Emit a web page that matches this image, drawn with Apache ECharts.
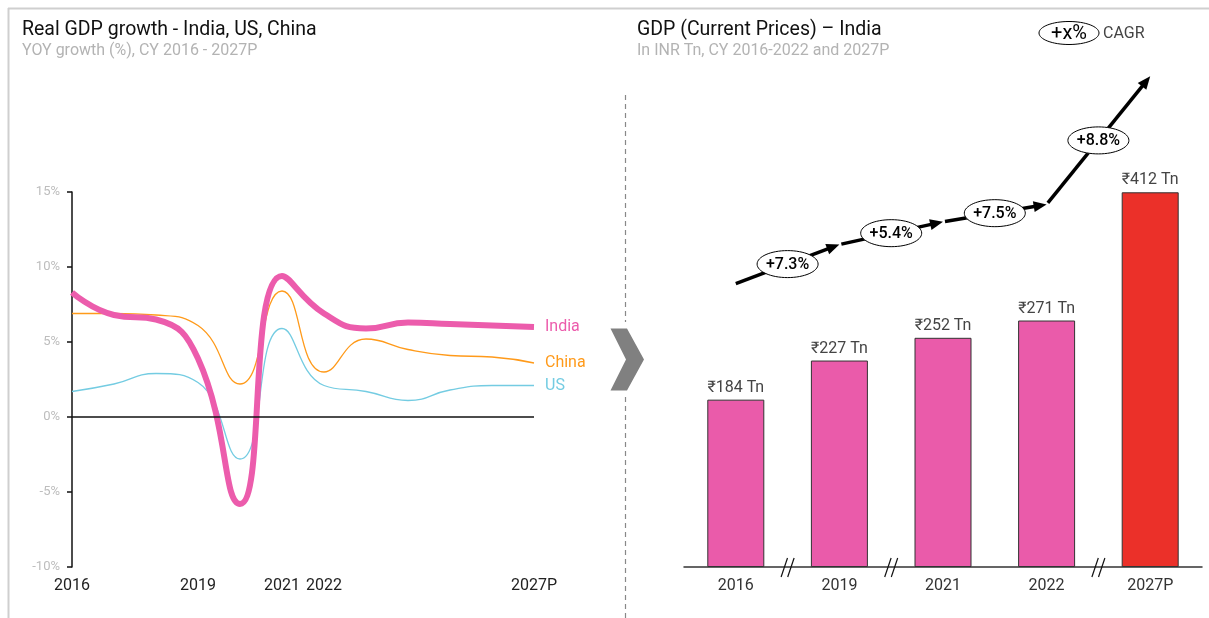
<!DOCTYPE html>
<html>
<head>
<meta charset="utf-8">
<script src="https://cdn.jsdelivr.net/npm/echarts@6/dist/echarts.min.js"></script>
<style>
html,body{margin:0;padding:0;background:#fff;}
#chart{width:1209px;height:618px;}
</style>
</head>
<body>
<div id="chart"></div>
<script>
// ---------- Data: left chart (real GDP growth, %) ----------
const years = [2016, 2017, 2018, 2019, 2020, 2021, 2022, 2023, 2024, 2025, 2026, 2027];
const indiaGrowth = [8.3, 6.8, 6.5, 3.9, -5.8, 9.4, 6.9, 5.9, 6.3, 6.2, 6.1, 6.0];
const chinaGrowth = [6.9, 6.9, 6.8, 6.1, 2.2, 8.4, 3.0, 5.2, 4.5, 4.1, 4.0, 3.6];
const usGrowth    = [1.7, 2.2, 2.9, 2.3, -2.8, 5.9, 2.1, 1.7, 1.1, 1.8, 2.1, 2.1];
const xTickYears  = [2016, 2019, 2021, 2022, 2027];
const xTickLabels = ['2016', '2019', '2021', '2022', '2027P'];
const seriesNames = ['India', 'China', 'US'];

// ---------- Data: right chart (GDP current prices, INR Tn) ----------
const gdpCategories = ['2016', '2019', '2021', '2022', '2027P'];
const gdpValues = [184, 227, 252, 271, 412];
const cagrLabels = ['+7.3%', '+5.4%', '+7.5%', '+8.8%'];
const axisBreaksAfter = ['2016', '2019', '2022'];

// ---------- Styles ----------
const FONT = 'Roboto, "Noto Sans", sans-serif';
const PINK = '#EC5CAC';
const ORANGE = '#FF9A1A';
const BLUE = '#74CCE2';
const BAR_PINK = '#EA5BAA';
const BAR_RED = '#EB3029';
const ARROW_OFFSET = 116; // px above bar tops

const chart = echarts.init(document.getElementById('chart'), null, {renderer: 'canvas'});

function lineData(arr) { return years.map((y, i) => [y, arr[i]]); }

function endLabel(color) {
  return {show: true, formatter: '{a}', color: color, fontSize: 16, fontFamily: FONT, distance: 11};
}

const option = {
  animation: false,
  backgroundColor: '#fff',
  textStyle: {fontFamily: FONT},
  grid: [
    {left: 72, right: 675, top: 192, bottom: 51, outerBoundsMode: 'none'},
    {left: 684, right: 7, top: 112.25, bottom: 51, outerBoundsMode: 'none'}
  ],
  xAxis: [
    {
      gridIndex: 0, type: 'value', min: 2016, max: 2027, interval: 1,
      axisLine: {show: false}, axisTick: {show: false}, splitLine: {show: false},
      axisLabel: {
        margin: 11, color: '#222', fontSize: 16, fontFamily: FONT,
        showMinLabel: true, showMaxLabel: true, hideOverlap: false,
        formatter: function (v) { const k = xTickYears.indexOf(v); return k >= 0 ? xTickLabels[k] : ''; }
      }
    },
    {
      gridIndex: 1, type: 'category', data: gdpCategories,
      axisLine: {show: true, lineStyle: {color: '#333', width: 1.5}},
      axisTick: {show: false},
      axisLabel: {margin: 11, color: '#333', fontSize: 16, fontFamily: FONT}
    }
  ],
  yAxis: [
    {
      gridIndex: 0, type: 'value', min: -10, max: 15, interval: 5,
      axisLine: {show: true, lineStyle: {color: '#111', width: 1.5}},
      axisTick: {show: true, length: 5, lineStyle: {color: '#111', width: 1.5}},
      splitLine: {show: false},
      axisLabel: {formatter: '{value}%', color: '#BDBDBD', fontSize: 13, margin: 12, fontFamily: FONT}
    },
    {
      gridIndex: 1, type: 'value', min: 0, max: 500, show: false, splitLine: {show: false}
    }
  ],
  series: [
    {
      name: 'Zero', type: 'line', xAxisIndex: 0, yAxisIndex: 0, data: [], z: 1,
      markLine: {
        silent: true, symbol: 'none', label: {show: false},
        lineStyle: {color: '#111', width: 1.5, type: 'solid'},
        data: [{yAxis: 0}]
      }
    },
    {
      name: seriesNames[2], type: 'line', xAxisIndex: 0, yAxisIndex: 0, data: lineData(usGrowth),
      smooth: 0.5, showSymbol: false, z: 2,
      lineStyle: {color: BLUE, width: 1.3}, itemStyle: {color: BLUE}, endLabel: endLabel(BLUE)
    },
    {
      name: seriesNames[1], type: 'line', xAxisIndex: 0, yAxisIndex: 0, data: lineData(chinaGrowth),
      smooth: 0.5, showSymbol: false, z: 3,
      lineStyle: {color: ORANGE, width: 1.3}, itemStyle: {color: ORANGE}, endLabel: endLabel(ORANGE)
    },
    {
      name: seriesNames[0], type: 'line', xAxisIndex: 0, yAxisIndex: 0, data: lineData(indiaGrowth),
      smooth: 0.5, showSymbol: false, z: 4,
      lineStyle: {color: PINK, width: 6}, itemStyle: {color: PINK}, endLabel: endLabel(PINK)
    },
    {
      name: 'GDP', type: 'bar', xAxisIndex: 1, yAxisIndex: 1, barWidth: 57,
      data: gdpValues.map((v, i) => ({
        value: v,
        itemStyle: {color: /P$/.test(gdpCategories[i]) ? BAR_RED : BAR_PINK, borderColor: '#333', borderWidth: 1}
      })),
      label: {show: true, position: 'top', distance: 4, formatter: '₹{c} Tn', color: '#444', fontSize: 16, fontFamily: FONT}
    },
    {
      name: 'Breaks', type: 'custom', xAxisIndex: 1, yAxisIndex: 1, clip: false, silent: true, z: 5,
      data: axisBreaksAfter.map(c => [gdpCategories.indexOf(c)]),
      renderItem: function (params, api) {
        const i = api.value(0);
        const a = api.coord([i, 0]);
        const b = api.coord([i + 1, 0]);
        const cx = (a[0] + b[0]) / 2, cy = a[1];
        const mk = (dx) => ({
          type: 'line',
          shape: {x1: cx + dx - 3.2, y1: cy + 10, x2: cx + dx + 3.2, y2: cy - 9},
          style: {stroke: '#111', lineWidth: 1.2}
        });
        return {type: 'group', children: [mk(-3.3), mk(3.3)]};
      }
    },
    {
      name: 'CAGR', type: 'custom', xAxisIndex: 1, yAxisIndex: 1, clip: false, silent: true, z: 6,
      data: cagrLabels.map((l, i) => [i, gdpValues[i], i + 1, gdpValues[i + 1]]),
      renderItem: function (params, api) {
        const a = api.coord([api.value(0), api.value(1)]);
        const b = api.coord([api.value(2), api.value(3)]);
        a[1] -= ARROW_OFFSET; b[1] -= ARROW_OFFSET;
        const dx = b[0] - a[0], dy = b[1] - a[1];
        const len = Math.sqrt(dx * dx + dy * dy);
        const ux = dx / len, uy = dy / len, nx = -uy, ny = ux;
        const head = 13, hw = 5.5;
        const sx = a[0] + ux * (params.dataIndex === 0 ? 0 : 2), sy = a[1] + uy * (params.dataIndex === 0 ? 0 : 2);
        const bx = b[0] - ux * head, by = b[1] - uy * head;
        const mx = (a[0] + b[0]) / 2, my = (a[1] + b[1]) / 2;
        return {
          type: 'group',
          children: [
            {type: 'line', shape: {x1: sx, y1: sy, x2: bx + ux * 2, y2: by + uy * 2}, style: {stroke: '#000', lineWidth: 3.5}},
            {type: 'polygon', shape: {points: [[b[0], b[1]], [bx + nx * hw, by + ny * hw], [bx - nx * hw, by - ny * hw]]}, style: {fill: '#000'}},
            {type: 'ellipse', shape: {cx: mx, cy: my, rx: 30.5, ry: 13.5}, style: {fill: '#fff', stroke: '#000', lineWidth: 1}},
            {type: 'text', style: {text: cagrLabels[params.dataIndex], x: mx, y: my + 0.5, align: 'center', verticalAlign: 'middle', fontSize: 16, fontWeight: 500, fontFamily: FONT, fill: '#000'}}
          ]
        };
      }
    }
  ],
  graphic: [
    {type: 'line', shape: {x1: 8, y1: 8.5, x2: 1209, y2: 8.5}, style: {stroke: '#CFCFCF', lineWidth: 2}, silent: true},
    {type: 'line', shape: {x1: 8.5, y1: 8, x2: 8.5, y2: 618}, style: {stroke: '#CFCFCF', lineWidth: 2}, silent: true},
    {type: 'text', style: {text: 'Real GDP growth - India, US, China', x: 22, y: 30, verticalAlign: 'middle', fontSize: 19.5, fontFamily: FONT, fill: '#111'}},
    {type: 'text', style: {text: 'YOY growth (%), CY 2016 - 2027P', x: 22, y: 51, verticalAlign: 'middle', fontSize: 16, fontFamily: FONT, fill: '#B3B3B3'}},
    {type: 'text', style: {text: 'GDP (Current Prices) – India', x: 637, y: 30, verticalAlign: 'middle', fontSize: 19.5, fontFamily: FONT, fill: '#111'}},
    {type: 'text', style: {text: 'In INR Tn, CY 2016-2022 and 2027P', x: 637, y: 51, verticalAlign: 'middle', fontSize: 16, fontFamily: FONT, fill: '#B3B3B3'}},
    {type: 'line', shape: {x1: 625.5, y1: 95, x2: 625.5, y2: 322}, style: {stroke: '#888', lineWidth: 1.2, lineDash: [5, 4]}, silent: true},
    {type: 'line', shape: {x1: 625.5, y1: 397, x2: 625.5, y2: 618}, style: {stroke: '#888', lineWidth: 1.2, lineDash: [5, 4]}, silent: true},
    {type: 'polygon', shape: {points: [[610.5, 328.5], [627, 328.5], [644, 359.5], [627, 390.5], [610.5, 390.5], [626, 359.5]]}, style: {fill: '#808080'}, silent: true},
    {type: 'ellipse', shape: {cx: 1069, cy: 33, rx: 30, ry: 11.5}, style: {fill: '#fff', stroke: '#000', lineWidth: 1}, silent: true},
    {type: 'text', style: {text: '+x%', x: 1069, y: 34, align: 'center', verticalAlign: 'middle', fontSize: 20, fontFamily: FONT, fill: '#000'}},
    {type: 'text', style: {text: 'CAGR', x: 1103, y: 34, verticalAlign: 'middle', fontSize: 16, fontFamily: FONT, fill: '#444'}}
  ]
};

chart.setOption(option);
</script>
</body>
</html>
